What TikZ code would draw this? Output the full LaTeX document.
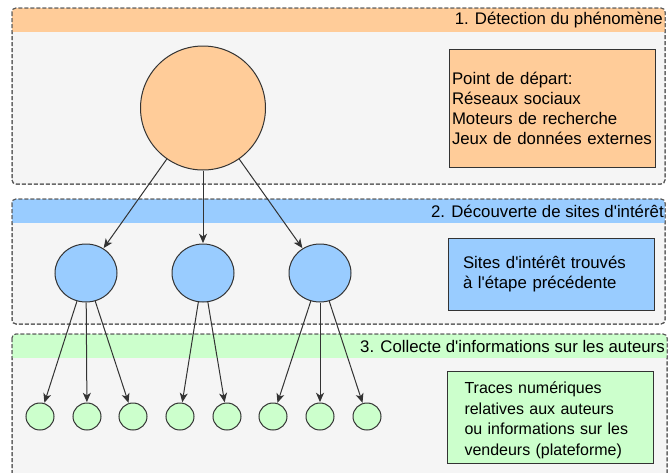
\documentclass[tikz,border=0pt]{standalone}
\usepackage{fontspec}
\setmainfont{Liberation Sans}
\usetikzlibrary{arrows.meta,shapes.geometric}

\definecolor{orangefill}{HTML}{FFCC99}
\definecolor{bluefill}{HTML}{99CCFF}
\definecolor{greenfill}{HTML}{CCFFCC}
\definecolor{panelfill}{HTML}{F5F5F5}
\definecolor{panelline}{HTML}{555555}
\definecolor{inkline}{HTML}{333333}

\newcommand{\apos}{\textquotesingle}

\tikzset{
  panelbox/.style={draw=panelline, fill=panelfill, line width=0.75pt,
    dash pattern=on 3pt off 1.5pt, rounded corners=3pt},
  panelrim/.style={draw=panelline, line width=0.75pt,
    dash pattern=on 3pt off 1.5pt, rounded corners=3pt},
  headtitle/.style={anchor=east, inner sep=0pt, font=\fontsize{12.6}{15}\selectfont},
  bubble/.style={ellipse, draw=inkline, line width=0.75pt, inner sep=0pt},
  bigbubble/.style={bubble, fill=orangefill, minimum width=93.75pt, minimum height=93pt},
  midbubble/.style={bubble, fill=bluefill, minimum width=46.5pt, minimum height=43.5pt},
  leafbubble/.style={bubble, fill=greenfill, minimum width=21pt, minimum height=20.25pt},
  notebox/.style={draw=inkline, line width=0.75pt, align=left, minimum width=154.5pt},
  link/.style={draw=inkline, line width=0.75pt,
    -{Stealth[length=7pt, width=6pt, inset=2pt]}, shorten >=0.3pt},
}

\begin{document}
\begin{tikzpicture}[x=0.75pt, y=-0.75pt]
\clip (0,0) rectangle (668,472);
\fill[white] (0,0) rectangle (668,472);

% stage panels: grey body, coloured header band, dashed rim
\path[panelbox] (12,8) rectangle (665,184);
\begin{scope}
  \clip[rounded corners=3pt] (12,8) rectangle (665,184);
  \fill[orangefill] (12,8) rectangle (665,32);
\end{scope}
\path[panelrim] (12,8) rectangle (665,184);

\path[panelbox] (12,199) rectangle (665,324);
\begin{scope}
  \clip[rounded corners=3pt] (12,199) rectangle (665,324);
  \fill[bluefill] (12,199) rectangle (665,223);
\end{scope}
\path[panelrim] (12,199) rectangle (665,324);

\path[panelbox] (12,334) rectangle (667,500);
\begin{scope}
  \clip[rounded corners=3pt] (12,334) rectangle (667,500);
  \fill[greenfill] (12,334) rectangle (667,358);
\end{scope}
\path[panelrim] (12,334) rectangle (667,500);

% stage titles
\node[headtitle] (title1) at (663,20.5) {1. Détection du phénomène};
\node[headtitle] (title2) at (664,211) {2. Découverte de sites d\apos intérêt};
\node[headtitle] (title3) at (665,346) {3. Collecte d\apos informations sur les auteurs};

% explanatory boxes
\node[notebox, fill=orangefill, minimum height=88.5pt, text width=150pt,
      inner xsep=2.25pt, font=\fontsize{12.6}{15}\selectfont] (note1) at (552,108)
  {Point de départ:\\Réseaux sociaux\\Moteurs de recherche\\Jeux de données externes};
\node[notebox, fill=bluefill, minimum height=54pt, text width=132pt,
      inner xsep=11.25pt, font=\fontsize{12.6}{15.5}\selectfont] (note2) at (551,274)
  {\rule{0pt}{9pt}Sites d\apos intérêt trouvés\\à l\apos étape précédente};
\node[notebox, fill=greenfill, minimum height=66.75pt, text width=129pt,
      inner xsep=12.75pt, font=\fontsize{12}{15.7}\selectfont] (note3) at (550.5,417.5)
  {\rule{0pt}{13pt}Traces numériques\\relatives aux auteurs\\ou informations sur les\\vendeurs (plateforme)};

% tree of bubbles
\node[bigbubble] (root) at (203,108) {};

\node[midbubble] (siteA) at (86,273) {};
\node[midbubble] (siteB) at (203,273) {};
\node[midbubble] (siteC) at (320,273) {};

\node[leafbubble] (leafA1) at (40,416.5) {};
\node[leafbubble] (leafA2) at (87,416.5) {};
\node[leafbubble] (leafA3) at (133,416.5) {};
\node[leafbubble] (leafB1) at (180,416.5) {};
\node[leafbubble] (leafB2) at (227,416.5) {};
\node[leafbubble] (leafC1) at (273,416.5) {};
\node[leafbubble] (leafC2) at (320,416.5) {};
\node[leafbubble] (leafC3) at (367,416.5) {};

\draw[link] (root) -- (siteA);
\draw[link] (root) -- (siteB);
\draw[link] (root) -- (siteC);

\draw[link] (siteA) -- (leafA1);
\draw[link] (siteA) -- (leafA2);
\draw[link] (siteA) -- (leafA3);
\draw[link] (siteB) -- (leafB1);
\draw[link] (siteB) -- (leafB2);
\draw[link] (siteC) -- (leafC1);
\draw[link] (siteC) -- (leafC2);
\draw[link] (siteC) -- (leafC3);
\end{tikzpicture}
\end{document}
